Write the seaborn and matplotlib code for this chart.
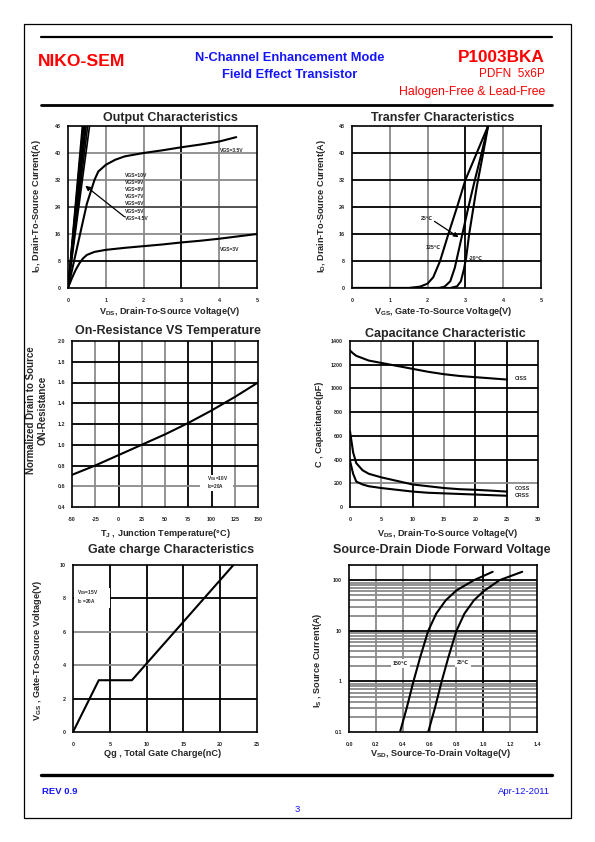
import numpy as np
import pandas as pd
import matplotlib
matplotlib.use("Agg")
import matplotlib.pyplot as plt
from matplotlib.lines import Line2D
from matplotlib.patches import Rectangle
import seaborn as sns

sns.set_style("white")
plt.rcParams["font.family"] = ["Liberation Sans", "DejaVu Sans"]
plt.rcParams["mathtext.fontset"] = "custom"
plt.rcParams["mathtext.rm"] = "Liberation Sans:bold"
plt.rcParams["mathtext.bf"] = "Liberation Sans:bold"
plt.rcParams["mathtext.it"] = "Liberation Sans:bold"
plt.rcParams["mathtext.default"] = "bf"

# ---------------- data ----------------
# Output characteristics
out_steep_vgs = ["10V", "9V", "8V", "7V", "6V", "5V", "4.5V"]
out_steep_vds48 = [0.38, 0.40, 0.42, 0.45, 0.48, 0.52, 0.57]
out_35_vds = [0, 0.1, 0.2, 0.3, 0.4, 0.5, 0.6, 0.7, 0.8, 1.0, 1.25, 1.5, 2.0, 2.5, 3.0, 3.5, 4.0, 4.45]
out_35_id = [0, 5, 10, 15, 20, 25, 28.5, 32, 34.5, 36.5, 38, 39, 40, 40.8, 41.7, 42.5, 43.4, 44.7]
out_3_vds = [0, 0.1, 0.2, 0.3, 0.4, 0.5, 0.7, 1.0, 1.5, 2.0, 2.5, 3.0, 3.5, 4.0, 4.5, 5.0]
out_3_id = [0, 2.8, 5.3, 7.3, 8.8, 9.8, 10.7, 11.3, 11.9, 12.4, 12.9, 13.5, 14.0, 14.6, 15.3, 16.0]
out_labels = ["VGS=10V", "VGS=9V", "VGS=8V", "VGS=7V", "VGS=6V", "VGS=5V", "VGS=4.5V"]

# Transfer characteristics
tr_125_vgs = [0, 1.5, 1.8, 2.0, 2.15, 2.33, 2.55, 2.78, 3.0, 3.3, 3.6]
tr_125_id = [0, 0, 0.4, 1.3, 3.2, 8, 16, 24, 32, 40, 48]
tr_25_vgs = [0, 2.3, 2.45, 2.6, 2.72, 2.82, 2.92, 3.08, 3.25, 3.43, 3.6]
tr_25_id = [0, 0, 0.4, 2, 6, 11, 16, 24, 32, 40, 48]
tr_m20_vgs = [0, 2.6, 2.78, 2.88, 2.96, 3.02, 3.1, 3.2, 3.3, 3.42, 3.52, 3.6]
tr_m20_id = [0, 0, 0.5, 2, 5.5, 9, 16, 23, 30, 37, 43, 48]

# On-resistance vs temperature
onr_tj = [-50, -25, 0, 25, 50, 75, 100, 125, 150]
onr_r = [0.71, 0.80, 0.90, 1.00, 1.10, 1.21, 1.33, 1.46, 1.60]

# Capacitance
cap_vds = [0, 0.5, 1, 2, 3, 5, 7.5, 10, 12.5, 15, 17.5, 20, 22.5, 25]
cap_ciss = [1320, 1295, 1275, 1255, 1235, 1215, 1190, 1165, 1140, 1120, 1105, 1095, 1085, 1075]
cap_coss = [640, 460, 370, 310, 280, 250, 220, 190, 175, 160, 150, 145, 138, 130]
cap_crss = [390, 280, 215, 190, 175, 160, 145, 130, 120, 115, 110, 105, 100, 95]

# Gate charge
gc_qg = [0, 3.5, 8, 10, 15, 20, 21.8]
gc_vgs = [0, 3.1, 3.1, 4.1, 6.6, 9.1, 10]

# Source-drain diode
sd_150_vsd = [0.38, 0.43, 0.48, 0.53, 0.59, 0.65, 0.72, 0.80, 0.93, 1.07]
sd_150_is = [0.1, 0.3, 1, 3, 10, 22, 40, 63, 100, 147]
sd_25_vsd = [0.59, 0.64, 0.69, 0.74, 0.80, 0.86, 0.93, 1.00, 1.12, 1.29]
sd_25_is = [0.1, 0.3, 1, 3, 10, 22, 40, 60, 100, 147]

# ---------------- figure ----------------
W, H = 595, 842
fig = plt.figure(figsize=(5.95, 8.42), dpi=100)
RED = "#ff0000"
BLUE = "#1414ff"
GREY = "#8a8a8a"
LW = 1.5
TICK_FS = 3.9
LAB_FS = 6.6
TITLE_FS = 9


def fx(x):
    return x / W


def fy(y):
    return 1 - y / H


def add_ax(l, r, t, b):
    return fig.add_axes([fx(l), fy(b), (r - l) / W, (b - t) / H])


def setup(ax, xlim, ylim, xticks, xtl, yticks, ytl, vgrid, hgrid, xpad=7, ypad=5):
    ax.set_xlim(*xlim)
    ax.set_ylim(*ylim)
    ax.set_xticks(xticks)
    ax.set_xticklabels(xtl, fontweight="bold", fontsize=TICK_FS)
    ax.set_yticks(yticks)
    ax.set_yticklabels(ytl, fontweight="bold", fontsize=TICK_FS)
    ax.tick_params(axis="x", length=0, pad=xpad)
    ax.tick_params(axis="y", length=0, pad=ypad)
    ax.minorticks_off()
    ax.set_xlabel("")
    ax.set_ylabel("")
    for s in ax.spines.values():
        s.set_color("black")
        s.set_linewidth(1.2)
        s.set_visible(True)
    for x, c in vgrid:
        ax.axvline(x, color=c, lw=1.3, zorder=0.5)
    for y, c in hgrid:
        ax.axhline(y, color=c, lw=1.3, zorder=0.5)


def ftext(x, y, s, **kw):
    fig.text(fx(x), fy(y), s, **kw)


# ---- page decorations ----
fig.add_artist(Rectangle((fx(24), fy(818)), (571 - 24) / W, (818 - 24) / H,
                         transform=fig.transFigure, fill=False, lw=0.9, ec="black"))
for yy, lw in [(37, 1.6), (105, 2.0), (775, 2.4)]:
    fig.add_artist(Line2D([fx(41), fx(552)], [fy(yy), fy(yy)], transform=fig.transFigure,
                          color="black", lw=lw))

ftext(38, 62, "NIKO-SEM", color=RED, fontsize=12.6, fontweight="bold", ha="left", va="center")
ftext(290, 58, "N-Channel Enhancement Mode", color=BLUE, fontsize=9.3, fontweight="bold", ha="center", va="center")
ftext(290, 75, "Field Effect Transistor", color=BLUE, fontsize=9.3, fontweight="bold", ha="center", va="center")
ftext(545, 58, "P1003BKA", color=RED, fontsize=12.3, fontweight="bold", ha="right", va="center")
ftext(545, 74, "PDFN  5x6P", color=RED, fontsize=8.5, ha="right", va="center")
ftext(545, 92, "Halogen-Free & Lead-Free", color=RED, fontsize=8.8, ha="right", va="center")
ftext(42, 791, "REV 0.9", color=BLUE, fontsize=6.8, fontweight="bold", ha="left", va="center")
ftext(550, 791, "Apr-12-2011", color=BLUE, fontsize=6.8, ha="right", va="center")
ftext(297, 810, "3", color=BLUE, fontsize=6.8, ha="center", va="center")

# ---- 1. Output characteristics ----
ax1 = add_ax(68, 257, 126, 288)
rows = []
for v, x48 in zip(out_steep_vgs, out_steep_vds48):
    rows += [(v, 0.0, 0.0), (v, x48 * 0.5, 24.0), (v, x48 * 1.1, 52.8)]
rows += [("3.5V", x, y) for x, y in zip(out_35_vds, out_35_id)]
rows += [("3V", x, y) for x, y in zip(out_3_vds, out_3_id)]
df1 = pd.DataFrame(rows, columns=["vgs", "vds", "id"])
sns.lineplot(data=df1, x="vds", y="id", hue="vgs", palette={k: "black" for k in df1.vgs.unique()},
             estimator=None, sort=False, lw=1.2, legend=False, ax=ax1)
for ln in ax1.get_lines()[-2:]:
    ln.set_linewidth(LW)
setup(ax1, (0, 5), (0, 48), range(0, 6), [str(i) for i in range(6)],
      range(0, 49, 8), [str(i) for i in range(0, 49, 8)],
      [(1, GREY), (2, GREY), (3, "black"), (4, GREY)],
      [(8, "black"), (16, GREY), (24, "#444444"), (32, GREY), (40, GREY)])
for i, lab in enumerate(out_labels):
    ax1.text(1.51, 33.3 - i * 2.1, lab, fontsize=3.6, fontweight="bold", va="center", ha="left")
ax1.annotate("", xy=(0.4, 30.8), xytext=(1.55, 20.6),
             arrowprops=dict(arrowstyle="-|>", color="black", lw=0.9, mutation_scale=7))
ax1.text(4.02, 40.6, "VGS=3.5V", fontsize=3.6, fontweight="bold", va="center")
ax1.text(4.02, 11.3, "VGS=3V", fontsize=3.6, fontweight="bold", va="center")
ftext(170, 118, "Output Characteristics", fontsize=TITLE_FS, fontweight="bold", ha="center", va="center")
ftext(170, 311, "V$_{DS}$, Drain-To-Source Voltage(V)", fontsize=LAB_FS, fontweight="bold", ha="center", va="center")
ftext(37, 206, "I$_D$, Drain-To-Source Current(A)", fontsize=LAB_FS, fontweight="bold", ha="center", va="center", rotation=90)

# ---- 2. Transfer characteristics ----
ax2 = add_ax(352, 541, 126, 288)
rows = [("125", x, y) for x, y in zip(tr_125_vgs, tr_125_id)]
rows += [("25", x, y) for x, y in zip(tr_25_vgs, tr_25_id)]
rows += [("-20", x, y) for x, y in zip(tr_m20_vgs, tr_m20_id)]
df2 = pd.DataFrame(rows, columns=["t", "vgs", "id"])
sns.lineplot(data=df2, x="vgs", y="id", hue="t", palette={k: "black" for k in df2.t.unique()},
             estimator=None, sort=False, lw=LW, legend=False, ax=ax2)
setup(ax2, (0, 5), (0, 48), range(0, 6), [str(i) for i in range(6)],
      range(0, 49, 8), [str(i) for i in range(0, 49, 8)],
      [(1, GREY), (2, GREY), (3, "black"), (4, GREY)],
      [(8, "black"), (16, "black"), (24, "black"), (32, "black"), (40, "black")])
ax2.text(1.82, 20.5, "25℃", fontsize=3.8, fontweight="bold", va="center")
ax2.annotate("", xy=(2.88, 14.6), xytext=(2.12, 20.2),
             arrowprops=dict(arrowstyle="-|>", color="black", lw=0.9, mutation_scale=7))
ax2.text(1.95, 12.0, "125℃", fontsize=3.8, fontweight="bold", va="center")
ax2.text(3.08, 8.6, "-20℃", fontsize=3.8, fontweight="bold", va="center")
ftext(443, 118, "Transfer Characteristics", fontsize=TITLE_FS, fontweight="bold", ha="center", va="center")
ftext(443, 311, "V$_{GS}$, Gate-To-Source Voltage(V)", fontsize=LAB_FS, fontweight="bold", ha="center", va="center")
ftext(321, 206, "I$_D$, Drain-To-Source Current(A)", fontsize=LAB_FS, fontweight="bold", ha="center", va="center", rotation=90)

# ---- 3. On-resistance vs temperature ----
ax3 = add_ax(72, 258, 341, 507)
df3 = pd.DataFrame({"tj": onr_tj, "r": onr_r})
sns.lineplot(data=df3, x="tj", y="r", color="black", lw=LW, estimator=None, sort=False, ax=ax3)
setup(ax3, (-50, 150), (0.4, 2.0), range(-50, 151, 25), [str(i) for i in range(-50, 151, 25)],
      np.arange(0.4, 2.01, 0.2), ["%.1f" % v for v in np.arange(0.4, 2.01, 0.2)],
      [(-25, GREY), (0, "black"), (25, GREY), (50, GREY), (75, "black"), (100, "black"), (125, GREY)],
      [(0.6, GREY), (0.8, "black"), (1.0, "black"), (1.2, "black"), (1.4, "black"), (1.6, "black"), (1.8, "black")])
ax3.add_patch(Rectangle((88, 0.555), 35, 0.15, facecolor="white", edgecolor="none", zorder=1))
ax3.text(95, 0.672, "V$_{GS}$=10V", fontsize=3.4, fontweight="bold", va="center", zorder=3)
ax3.text(95, 0.598, "I$_D$=20A", fontsize=3.4, fontweight="bold", va="center", zorder=3)
ftext(168, 331, "On-Resistance VS Temperature", fontsize=TITLE_FS, fontweight="bold", ha="center", va="center")
ftext(165, 534, "T$_J$ , Junction Temperature(°C)", fontsize=LAB_FS, fontweight="bold", ha="center", va="center")
ftext(31, 410, "Normalized Drain to Source", fontsize=7, fontweight="bold", ha="center", va="center", rotation=90)
ftext(43, 410, "ON-Resistance", fontsize=7, fontweight="bold", ha="center", va="center", rotation=90)

# ---- 4. Capacitance ----
ax4 = add_ax(350, 538, 341, 507)
df4 = pd.DataFrame({"vds": cap_vds * 3,
                    "c": cap_ciss + cap_coss + cap_crss,
                    "kind": ["CISS"] * len(cap_vds) + ["COSS"] * len(cap_vds) + ["CRSS"] * len(cap_vds)})
sns.lineplot(data=df4, x="vds", y="c", hue="kind", palette={"CISS": "black", "COSS": "black", "CRSS": "black"},
             estimator=None, sort=False, lw=LW, legend=False, ax=ax4)
setup(ax4, (0, 30), (0, 1400), range(0, 31, 5), [str(i) for i in range(0, 31, 5)],
      range(0, 1401, 200), [str(i) for i in range(0, 1401, 200)],
      [(5, GREY), (10, "black"), (15, GREY), (20, "black"), (25, "black")],
      [(200, GREY), (400, "black"), (600, "black"), (800, "black"), (1000, "black"), (1200, "black")])
ax4.text(26.3, 1080, "CISS", fontsize=3.8, fontweight="bold", va="center")
ax4.text(26.3, 160, "COSS", fontsize=3.8, fontweight="bold", va="center")
ax4.text(26.3, 100, "CRSS", fontsize=3.8, fontweight="bold", va="center")
ftext(445, 334, "Capacitance Characteristic", fontsize=TITLE_FS, fontweight="bold", ha="center", va="center")
ftext(448, 534, "V$_{DS}$, Drain-To-Source Voltage(V)", fontsize=LAB_FS, fontweight="bold", ha="center", va="center")
ftext(319, 424, "C , Capacitance(pF)", fontsize=LAB_FS, fontweight="bold", ha="center", va="center", rotation=90)

# ---- 5. Gate charge ----
ax5 = add_ax(73, 257, 565, 732)
df5 = pd.DataFrame({"qg": gc_qg, "vgs": gc_vgs})
sns.lineplot(data=df5, x="qg", y="vgs", color="black", lw=LW, estimator=None, sort=False, ax=ax5)
setup(ax5, (0, 25), (0, 10), range(0, 26, 5), [str(i) for i in range(0, 26, 5)],
      range(0, 11, 2), [str(i) for i in range(0, 11, 2)],
      [(5, "black"), (10, "black"), (15, "black"), (20, "black")],
      [(2, "black"), (4, GREY), (6, GREY), (8, "black")])
ax5.add_patch(Rectangle((0.1, 7.4), 4.9, 1.2, facecolor="white", edgecolor="none", zorder=1))
ax5.text(0.6, 8.38, "V$_{DS}$=15V", fontsize=3.4, fontweight="bold", va="center", zorder=3)
ax5.text(0.6, 7.82, "I$_D$ =20A", fontsize=3.4, fontweight="bold", va="center", zorder=3)
ftext(171, 550, "Gate charge Characteristics", fontsize=TITLE_FS, fontweight="bold", ha="center", va="center")
ftext(163, 754, "Qg , Total Gate Charge(nC)", fontsize=LAB_FS, fontweight="bold", ha="center", va="center")
ftext(38, 650, "V$_{GS}$ , Gate-To-Source Voltage(V)", fontsize=LAB_FS, fontweight="bold", ha="center", va="center", rotation=90)

# ---- 6. Source-drain diode ----
ax6 = add_ax(349, 537, 565, 732)
df6 = pd.DataFrame({"vsd": sd_150_vsd + sd_25_vsd, "is": sd_150_is + sd_25_is,
                    "t": ["150"] * len(sd_150_vsd) + ["25"] * len(sd_25_vsd)})
sns.lineplot(data=df6, x="vsd", y="is", hue="t", palette={"150": "black", "25": "black"},
             estimator=None, sort=False, lw=LW, legend=False, ax=ax6)
ax6.set_yscale("log")
minor_h = [(m * d, GREY) for d in (0.1, 1, 10) for m in range(2, 10)]
major_h = [(1, "black"), (10, "black"), (100, "black")]
setup(ax6, (0, 1.4), (0.1, 200), np.arange(0, 1.41, 0.2), ["%.1f" % v for v in np.arange(0, 1.41, 0.2)],
      [0.1, 1, 10, 100], ["0.1", "1", "10", "100"],
      [(0.2, GREY), (0.4, GREY), (0.6, GREY), (0.8, GREY), (1.0, "black"), (1.2, GREY)],
      minor_h + major_h)
ax6.minorticks_off()
ax6.text(0.385, 2.3, "150℃", fontsize=3.8, fontweight="bold", va="center", ha="center", zorder=3,
         bbox=dict(facecolor="white", edgecolor="none", pad=1.5))
ax6.text(0.85, 2.4, "25℃", fontsize=3.8, fontweight="bold", va="center", ha="center", zorder=3,
         bbox=dict(facecolor="white", edgecolor="none", pad=1.5))
ftext(442, 550, "Source-Drain Diode Forward Voltage", fontsize=TITLE_FS, fontweight="bold", ha="center", va="center")
ftext(441, 754, "V$_{SD}$, Source-To-Drain Voltage(V)", fontsize=LAB_FS, fontweight="bold", ha="center", va="center")
ftext(318, 660, "I$_S$ , Source Current(A)", fontsize=LAB_FS, fontweight="bold", ha="center", va="center", rotation=90)

fig.savefig("out.png", dpi=100)
